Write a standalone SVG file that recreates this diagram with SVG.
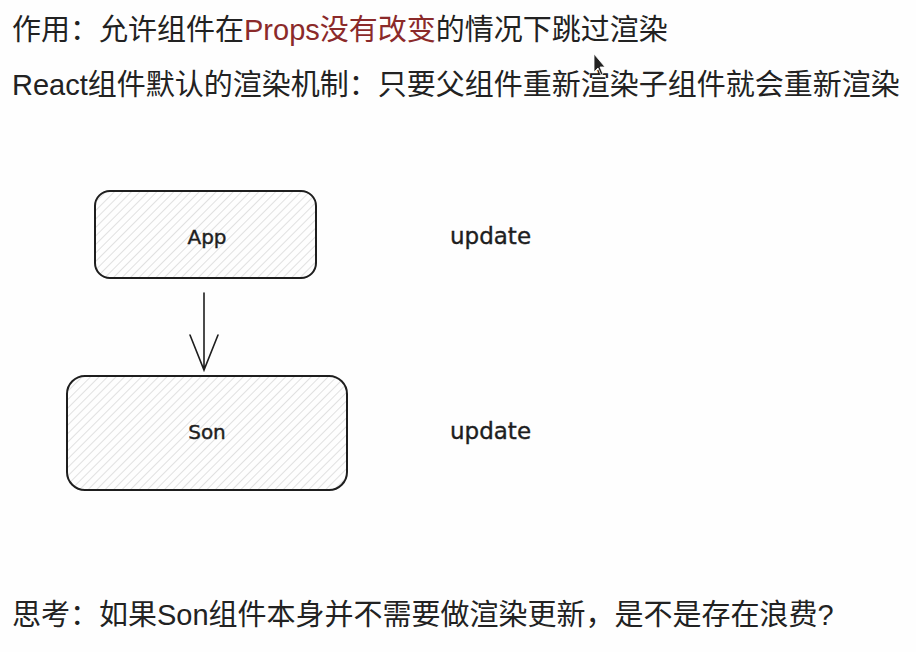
<svg xmlns="http://www.w3.org/2000/svg" width="916" height="652" viewBox="0 0 916 652">
<defs>
<pattern id="hatch" patternUnits="userSpaceOnUse" width="6" height="6" patternTransform="rotate(45)">
<line x1="0" y1="0" x2="0" y2="6" stroke="#c4c4c4" stroke-width="1"/>
</pattern>
<style>
.t{font-family:"Liberation Sans","Noto Sans CJK SC",sans-serif;font-size:29px;fill:#222}
.red{fill:#8b2a2a}
.box{fill:url(#hatch);stroke:#1e1e1e;stroke-width:2}
.hw{font-family:"DejaVu Sans",sans-serif;font-size:20px;fill:#1e1e1e;text-anchor:middle;stroke:#1e1e1e;stroke-width:0.4}
.up{font-family:"DejaVu Sans",sans-serif;font-size:23px;fill:#1e1e1e;stroke:#1e1e1e;stroke-width:0.4}
.edge{fill:none;stroke:#1e1e1e;stroke-width:1.6;stroke-linecap:round}
</style>
</defs>
<rect width="916" height="652" fill="#fefefe"/>
<text class="t" x="12" y="40">作用：允许组件在<tspan class="red">Props没有改变</tspan>的情况下跳过渲染</text>
<text class="t" x="12" y="95">React组件默认的渲染机制：只要父组件重新渲染子组件就会重新渲染</text>
<g id="app">
<rect class="box" x="95" y="191" width="221" height="87" rx="15"/>
<text class="hw" x="207" y="244">App</text>
</g>
<g id="son">
<rect class="box" x="67" y="376" width="280" height="114" rx="18"/>
<text class="hw" x="207" y="439">Son</text>
</g>
<g id="labels">
<text class="up" x="450" y="244">update</text>
<text class="up" x="450" y="439">update</text>
</g>
<g id="connectors">
<path class="edge" d="M204 293 L204 370 M190 335 L204 370 L218 335"/>
</g>
<path d="M594 54 L594 72 L598 68 L601 75 L603 74 L600 67 L605 67 Z" fill="#222" stroke="#fff" stroke-width="0.8"/>
<text class="t" x="12" y="625">思考：如果Son组件本身并不需要做渲染更新，是不是存在浪费?</text>
</svg>
